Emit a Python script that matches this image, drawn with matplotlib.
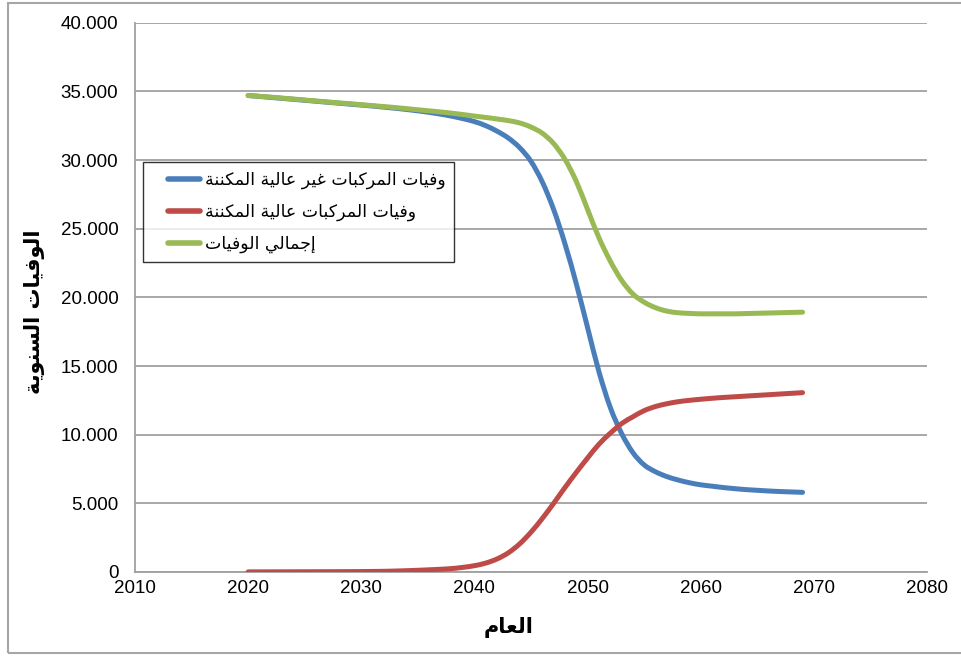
import matplotlib
matplotlib.use("Agg")
import numpy as np
import matplotlib.pyplot as plt
from matplotlib.ticker import FuncFormatter, MultipleLocator
from matplotlib.patches import Rectangle, PathPatch
from matplotlib.path import Path
from matplotlib.lines import Line2D
from matplotlib.legend_handler import HandlerLine2D

# ---- data -----------------------------------------------------------------
years = list(range(2020, 2070))

non_automated = [
    34700, 34630, 34560, 34490, 34420, 34350, 34280, 34210, 34140, 34070,
    34000, 33930, 33850, 33770, 33680, 33580, 33470, 33340, 33190, 33010,
    32800, 32500, 32100, 31600, 30900, 29900, 28400, 26400, 23900, 21000,
    17800, 14600, 12000, 10100, 8700, 7800, 7300, 6950, 6700, 6500,
    6350, 6250, 6150, 6070, 6000, 5950, 5900, 5860, 5830, 5800,
]

automated = [
    10, 10, 12, 14, 16, 18, 20, 22, 25, 28,
    32, 40, 50, 70, 95, 125, 160, 200, 250, 340,
    460, 650, 950, 1400, 2050, 2900, 3900, 5000, 6150, 7250,
    8300, 9300, 10100, 10800, 11300, 11750, 12050, 12250, 12400, 12500,
    12580, 12650, 12710, 12760, 12810, 12860, 12910, 12960, 13010, 13060,
]

total = [
    34700, 34640, 34580, 34510, 34440, 34370, 34300, 34230, 34160, 34100,
    34030, 33960, 33890, 33820, 33740, 33660, 33580, 33500, 33410, 33310,
    33200, 33100, 32990, 32870, 32700, 32400, 31950, 31200, 30050, 28450,
    26400, 24350, 22650, 21250, 20250, 19650, 19250, 19000, 18880, 18830,
    18800, 18800, 18800, 18800, 18820, 18840, 18860, 18880, 18900, 18920,
]

series_labels = [
    "وفيات المركبات غير عالية المكننة",
    "وفيات المركبات عالية المكننة",
    "إجمالي الوفيات",
]
x_label = "العام"
y_label = "الوفيات السنوية"

# ---- minimal Arabic shaping (contextual forms + right-to-left order) -------
# letter: (isolated, final, initial, medial); right-joining letters have 2 forms
FORMS = {
    "ا": ("\uFE8D", "\uFE8E"),
    "إ": ("\uFE87", "\uFE88"),
    "أ": ("\uFE83", "\uFE84"),
    "آ": ("\uFE81", "\uFE82"),
    "د": ("\uFEA9", "\uFEAA"),
    "ذ": ("\uFEAB", "\uFEAC"),
    "ر": ("\uFEAD", "\uFEAE"),
    "ز": ("\uFEAF", "\uFEB0"),
    "و": ("\uFEED", "\uFEEE"),
    "ة": ("\uFE93", "\uFE94"),
    "ى": ("\uFEEF", "\uFEF0"),
    "ب": ("\uFE8F", "\uFE90", "\uFE91", "\uFE92"),
    "ت": ("\uFE95", "\uFE96", "\uFE97", "\uFE98"),
    "ث": ("\uFE99", "\uFE9A", "\uFE9B", "\uFE9C"),
    "ج": ("\uFE9D", "\uFE9E", "\uFE9F", "\uFEA0"),
    "ح": ("\uFEA1", "\uFEA2", "\uFEA3", "\uFEA4"),
    "خ": ("\uFEA5", "\uFEA6", "\uFEA7", "\uFEA8"),
    "س": ("\uFEB1", "\uFEB2", "\uFEB3", "\uFEB4"),
    "ش": ("\uFEB5", "\uFEB6", "\uFEB7", "\uFEB8"),
    "ع": ("\uFEC9", "\uFECA", "\uFECB", "\uFECC"),
    "غ": ("\uFECD", "\uFECE", "\uFECF", "\uFED0"),
    "ف": ("\uFED1", "\uFED2", "\uFED3", "\uFED4"),
    "ق": ("\uFED5", "\uFED6", "\uFED7", "\uFED8"),
    "ك": ("\uFED9", "\uFEDA", "\uFEDB", "\uFEDC"),
    "ل": ("\uFEDD", "\uFEDE", "\uFEDF", "\uFEE0"),
    "م": ("\uFEE1", "\uFEE2", "\uFEE3", "\uFEE4"),
    "ن": ("\uFEE5", "\uFEE6", "\uFEE7", "\uFEE8"),
    "ه": ("\uFEE9", "\uFEEA", "\uFEEB", "\uFEEC"),
    "ي": ("\uFEF1", "\uFEF2", "\uFEF3", "\uFEF4"),
}


def shape(text):
    out = []
    n = len(text)
    for i, ch in enumerate(text):
        forms = FORMS.get(ch)
        if forms is None:
            out.append(ch)
            continue
        prev = text[i - 1] if i > 0 else ""
        nxt = text[i + 1] if i + 1 < n else ""
        joins_prev = prev in FORMS and len(FORMS[prev]) == 4
        joins_next = len(forms) == 4 and nxt in FORMS
        if joins_prev and joins_next:
            out.append(forms[3])
        elif joins_prev:
            out.append(forms[1])
        elif joins_next:
            out.append(forms[2])
        else:
            out.append(forms[0])
    return "".join(reversed(out))


def smooth_path(xs, ys):
    """Cubic Bezier path through the points (Catmull-Rom style smoothing)."""
    p = np.column_stack([xs, ys]).astype(float)
    n = len(p)
    verts = [p[0]]
    codes = [Path.MOVETO]
    for i in range(n - 1):
        p0 = p[i - 1] if i > 0 else p[i]
        p1, p2 = p[i], p[i + 1]
        p3 = p[i + 2] if i + 2 < n else p[i + 1]
        c1 = p1 + (p2 - p0) / 6.0
        c2 = p2 - (p3 - p1) / 6.0
        verts += [c1, c2, p2]
        codes += [Path.CURVE4] * 3
    return Path(verts, codes)


class OffsetLineHandler(HandlerLine2D):
    """Legend line drawn only over the right part of the handle box."""

    def __init__(self, line_px, **kw):
        super().__init__(**kw)
        self.line_px = line_px

    def create_artists(self, legend, orig_handle, xdescent, ydescent,
                       width, height, fontsize, trans):
        arts = super().create_artists(legend, orig_handle, xdescent, ydescent,
                                      width, height, fontsize, trans)
        length = self.line_px * 72.0 / legend.figure.dpi
        for a in arts:
            xd = np.asarray(a.get_xdata(), dtype=float)
            if xd.size >= 2:
                a.set_xdata(np.linspace(xd[-1] - length, xd[-1], xd.size))
        return arts


# ---- figure ----------------------------------------------------------------
W, H = 961, 656
fig = plt.figure(figsize=(W / 100, H / 100), dpi=100)
fig.patch.set_facecolor("white")

# outer chart frame
fig.add_artist(Rectangle((8 / W, 3 / H), (W + 5 - 8) / W, (653 - 3) / H,
                         transform=fig.transFigure, fill=False,
                         edgecolor="#a6a6a6", linewidth=1.5, clip_on=False))

ax = fig.add_axes([135 / W, 1 - 572 / H, (927 - 135) / W, (572 - 22.7) / H])

num_font = ["Liberation Sans", "DejaVu Sans"]
ar_font = ["DejaVu Sans"]

colors = ["#4a7ebb", "#be4b48", "#98b954"]
handles = []
for vals, lab, col in zip([non_automated, automated, total], series_labels, colors):
    patch = PathPatch(smooth_path(years, vals), facecolor="none", edgecolor=col,
                      linewidth=3.6, capstyle="round", joinstyle="round",
                      zorder=3)
    ax.add_patch(patch)
    handles.append(Line2D([], [], color=col, linewidth=4.0,
                          solid_capstyle="round", label=shape(lab)))

ax.set_xlim(2010, 2080)
ax.set_ylim(0, 40000)
ax.xaxis.set_major_locator(MultipleLocator(10))
ax.yaxis.set_major_locator(MultipleLocator(5000))


def thousands(v, pos):
    if v == 0:
        return "0"
    return f"{int(v):,}".replace(",", ".")


ax.yaxis.set_major_formatter(FuncFormatter(thousands))
ax.grid(axis="y", color="#a0a0a0", linewidth=1.3, zorder=0)
ax.set_axisbelow(True)

for s in ["top", "right"]:
    ax.spines[s].set_visible(False)
for s in ["left", "bottom"]:
    ax.spines[s].set_color("#a0a0a0")
    ax.spines[s].set_linewidth(1.3)

ax.tick_params(length=0, labelsize=13.5, pad=6)
ax.tick_params(axis="y", pad=12)
for t in ax.get_xticklabels() + ax.get_yticklabels():
    t.set_family(num_font)
    t.set_color("black")

leg_fs = 12.5
leg = ax.legend(handles=handles, loc="upper left",
                bbox_to_anchor=(8 / 792, (572 - 162) / 549.3),
                borderaxespad=0, frameon=True, fancybox=False,
                prop={"family": ar_font, "size": leg_fs},
                handlelength=2.8, handletextpad=0.25, labelspacing=0.8,
                borderpad=0.5,
                handler_map={Line2D: OffsetLineHandler(32)})
leg.get_frame().set_edgecolor("black")
leg.get_frame().set_linewidth(1.0)

fig.text(509 / W, 1 - 628 / H, shape(x_label), ha="center", va="center",
         fontsize=15, fontweight="bold", family=ar_font)
fig.text(35 / W, 1 - 312 / H, shape(y_label), ha="center", va="center",
         rotation=90, fontsize=15, fontweight="bold", family=ar_font)

fig.savefig("out.png", dpi=100, facecolor="white")
